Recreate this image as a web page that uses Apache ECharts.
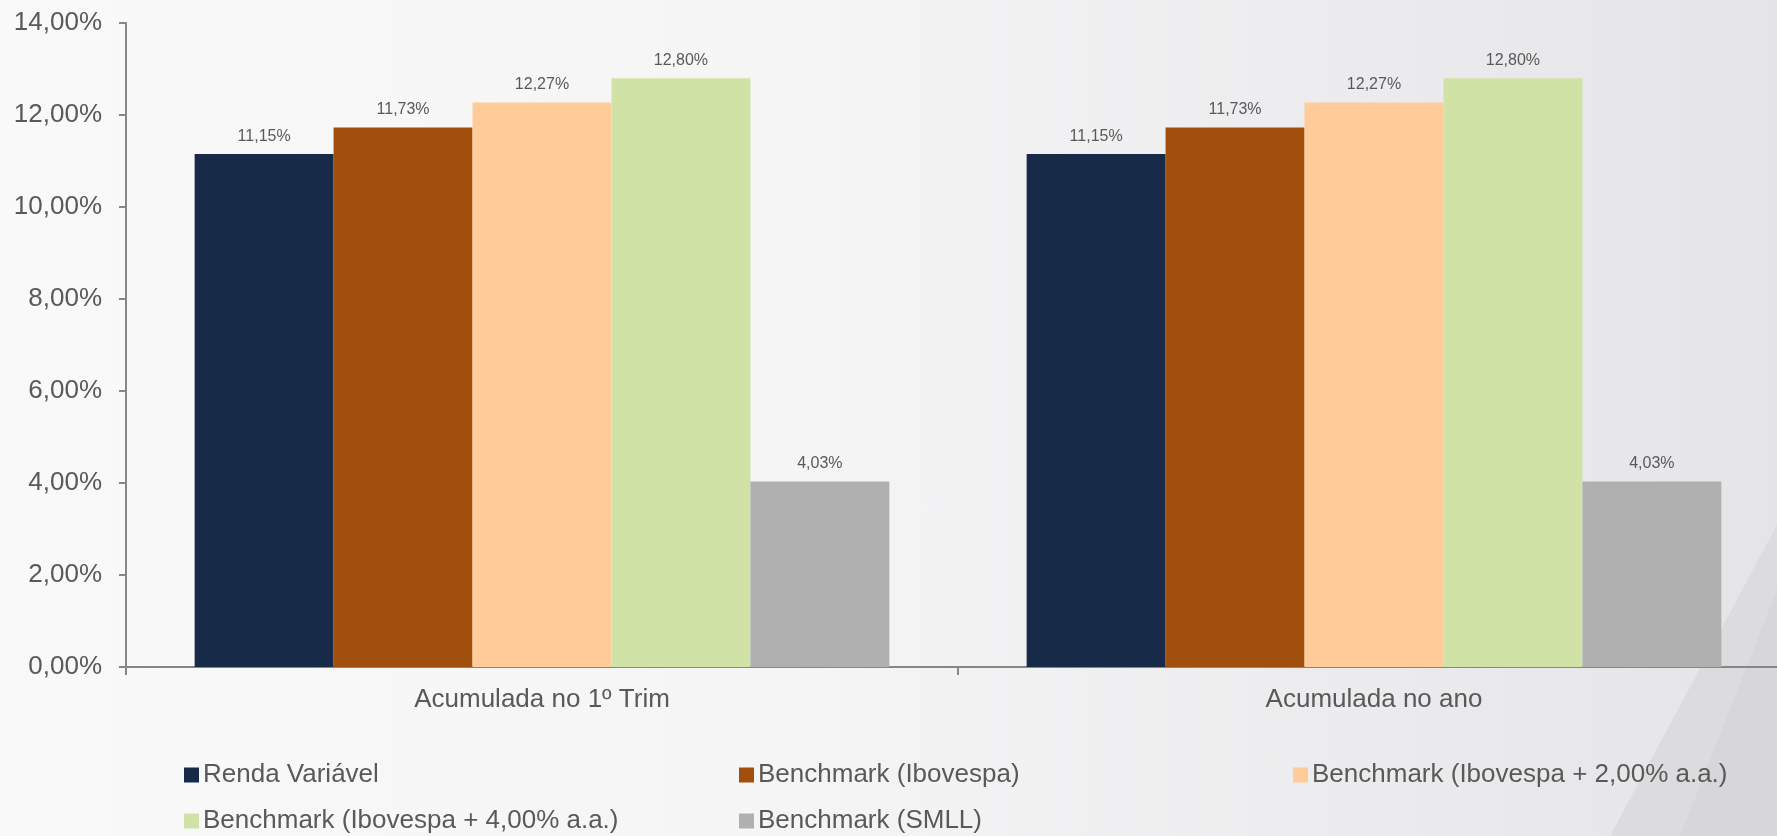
<!DOCTYPE html>
<html>
<head>
<meta charset="utf-8">
<script src="https://cdn.jsdelivr.net/npm/echarts@6/dist/echarts.min.js"></script>
<style>
html,body{margin:0;padding:0;width:1777px;height:836px;overflow:hidden;
background:linear-gradient(to right,#f9f9fa 0%,#f5f5f6 45%,#ececee 75%,#e5e5e7 100%);}
#c{width:1790px;height:836px;}
</style>
</head>
<body>
<div id="c"></div>
<script>
const categories = ['Acumulada no 1º Trim', 'Acumulada no ano'];
const seriesNames = [
  'Renda Variável',
  'Benchmark (Ibovespa)',
  'Benchmark (Ibovespa + 2,00% a.a.)',
  'Benchmark (Ibovespa + 4,00% a.a.)',
  'Benchmark (SMLL)'
];
const rendaVariavel = [11.15, 11.15];
const ibovespa = [11.73, 11.73];
const ibov2 = [12.27, 12.27];
const ibov4 = [12.80, 12.80];
const smll = [4.03, 4.03];
const seriesValues = [rendaVariavel, ibovespa, ibov2, ibov4, smll];
const colors = ['#172b48', '#a0500c', '#ffcb99', '#d0e2a6', '#b0b0b0'];
const yTicks = [0, 2, 4, 6, 8, 10, 12, 14];

const fmt = v => Number(v).toFixed(2).replace('.', ',') + '%';
const FONT = '"Liberation Sans", Arial, sans-serif';
const TXT = '#595959';

const chart = echarts.init(document.getElementById('c'), null, {renderer: 'canvas'});

const legendPos = [
  {left: 184, top: 762},
  {left: 739, top: 762},
  {left: 1293, top: 762},
  {left: 184, top: 808},
  {left: 739, top: 808}
];

const option = {
  animation: false,
  backgroundColor: 'transparent',
  textStyle: {fontFamily: FONT},
  graphic: [
    {type: 'polygon', silent: true, z: -10,
     shape: {points: [[1777, 525], [1777, 836], [1610, 836]]},
     style: {fill: '#dcdcde'}},
    {type: 'polygon', silent: true, z: -9,
     shape: {points: [[1777, 590], [1777, 836], [1680, 836]]},
     style: {fill: '#d7d7d9'}}
  ],
  legend: seriesNames.map((n, i) => ({
    data: [n],
    left: legendPos[i].left,
    top: legendPos[i].top,
    padding: 0,
    itemWidth: 15,
    itemHeight: 15,
    icon: 'rect',
    selectedMode: false,
    textStyle: {fontSize: 26, color: TXT, fontFamily: FONT, padding: [0, 0, 0, -1]}
  })),
  grid: {left: 126, right: 0, top: 23, height: 644, containLabel: false},
  xAxis: {
    type: 'category',
    data: categories,
    axisLine: {lineStyle: {color: '#868686', width: 2}},
    axisTick: {show: true, length: 8, lineStyle: {color: '#868686', width: 2}},
    axisLabel: {fontSize: 26, color: TXT, margin: 20, fontFamily: FONT},
    splitLine: {show: false}
  },
  yAxis: {
    type: 'value',
    min: 0, max: 14, interval: 2,
    axisLine: {show: true, lineStyle: {color: '#868686', width: 2}},
    axisTick: {show: true, length: 7, lineStyle: {color: '#868686', width: 2}},
    axisLabel: {fontSize: 26, color: TXT, margin: 24, fontFamily: FONT,
      formatter: v => yTicks.includes(v) ? fmt(v) : ''},
    splitLine: {show: false}
  },
  series: seriesNames.map((n, i) => ({
    name: n,
    type: 'bar',
    data: seriesValues[i],
    barGap: '0%',
    barCategoryGap: '16.5%',
    itemStyle: {color: colors[i]},
    label: {show: true, position: 'top', distance: 10, fontSize: 16, color: TXT,
      fontFamily: FONT, formatter: p => fmt(p.value)}
  }))
};
chart.setOption(option);
</script>
</body>
</html>
